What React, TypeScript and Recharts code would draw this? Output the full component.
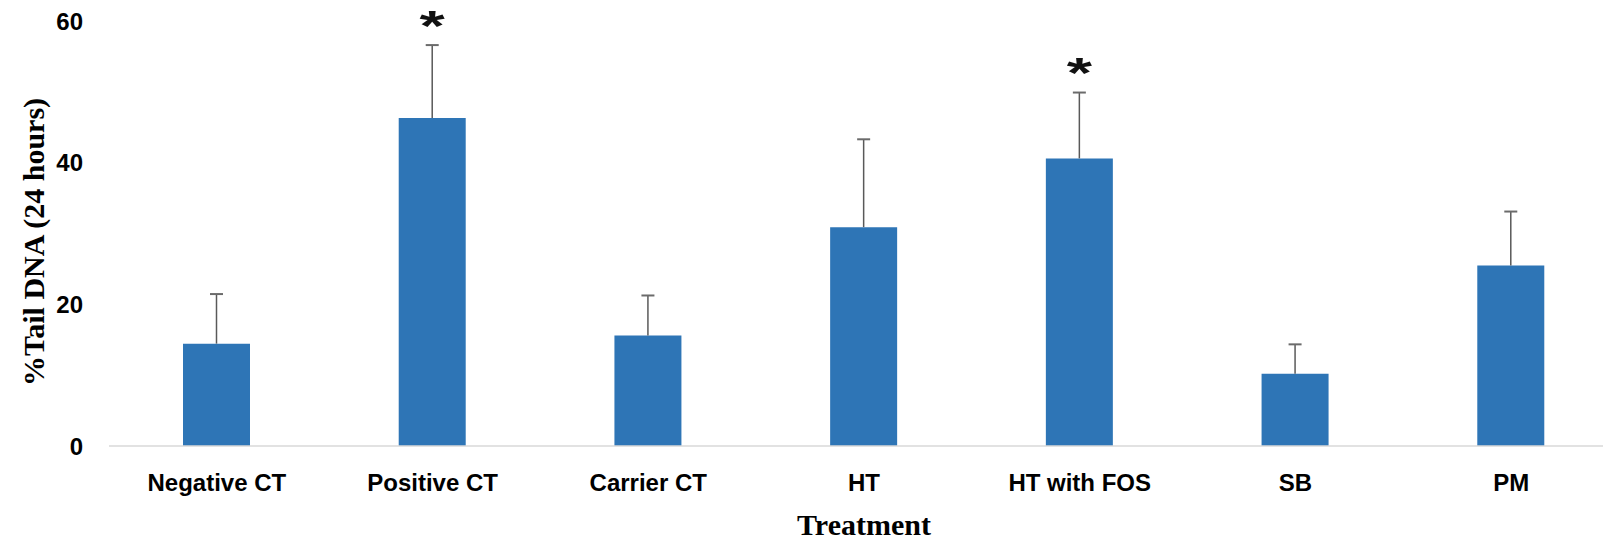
import React from 'react';
import { BarChart, Bar, XAxis, YAxis, LabelList, Label } from 'recharts';

const treatments = ['Negative CT', 'Positive CT', 'Carrier CT', 'HT', 'HT with FOS', 'SB', 'PM'];
const tailDna = [14.45, 46.3, 15.6, 30.9, 40.6, 10.2, 25.5];
const tailDnaErr = [7.0, 10.3, 5.65, 12.4, 9.3, 4.15, 7.6];
const significance = ['', '*', '', '', '*', '', ''];
const yTicks = [0, 20, 40, 60];

const rows = treatments.map((t, i) => ({
  treatment: t,
  value: tailDna[i],
  err: tailDnaErr[i],
  sig: significance[i],
}));

const ErrorShape = (props: any) => {
  const { x, y, width, height } = props;
  const cx = x + width / 2;
  return (
    <g>
      <line x1={cx} y1={y + height} x2={cx} y2={y} stroke="#595959" strokeWidth={1.5} />
      <line x1={cx - 6.5} y1={y} x2={cx + 6.5} y2={y} stroke="#6b6b6b" strokeWidth={2} />
    </g>
  );
};

// asterisk drawn a bit wider than the font's own glyph, like the original
const Star = (props: any) => {
  const { x, y, width, value } = props;
  if (!value) return null;
  const cx = x + width / 2;
  const cy = y - 30;
  return (
    <g transform={`translate(${cx},${cy}) scale(1.8,1.2)`}>
      <text x={0} y={20.5} textAnchor="middle" fontFamily="Liberation Sans"
        fontWeight="bold" fontSize={36} fill="#111">
        {value}
      </text>
    </g>
  );
};

export default function App() {
  return (
    <div style={{ position: 'absolute', left: 0, top: 0, width: 1603, height: 541, overflow: 'hidden', background: '#fff' }}>
      <BarChart width={1640} height={541} data={rows}
        margin={{ top: 21, right: 21, left: 0, bottom: 0 }}>
        <XAxis dataKey="treatment" height={95} tickLine={false} tickMargin={22}
          axisLine={{ stroke: '#d9d9d9', strokeWidth: 1.5 }}
          tick={{ fill: '#000', fontFamily: 'Liberation Sans', fontWeight: 'bold', fontSize: 24 }}>
          <Label content={() => (
            <text x={864} y={524} textAnchor="middle" dominantBaseline="central"
              fontFamily="Liberation Serif" fontWeight="bold" fontSize={30} fill="#000">
              Treatment
            </text>
          )} />
        </XAxis>
        <YAxis width={109} domain={[0, 60]} ticks={yTicks} axisLine={false} tickLine={false}
          tickMargin={20}
          tick={{ fill: '#000', fontFamily: 'Liberation Sans', fontWeight: 'bold', fontSize: 24 }}>
          <Label content={() => (
            <text x={44} y={242} transform="rotate(-90 44 242)" textAnchor="middle"
              fontFamily="Liberation Serif" fontWeight="bold" fontSize={30} fill="#000">
              %Tail DNA (24 hours)
            </text>
          )} />
        </YAxis>
        <Bar dataKey="value" stackId="a" fill="#2e75b6" barSize={67} isAnimationActive={false} />
        <Bar dataKey="err" stackId="a" barSize={67} shape={<ErrorShape />} isAnimationActive={false}>
          <LabelList dataKey="sig" content={<Star />} />
        </Bar>
      </BarChart>
    </div>
  );
}
